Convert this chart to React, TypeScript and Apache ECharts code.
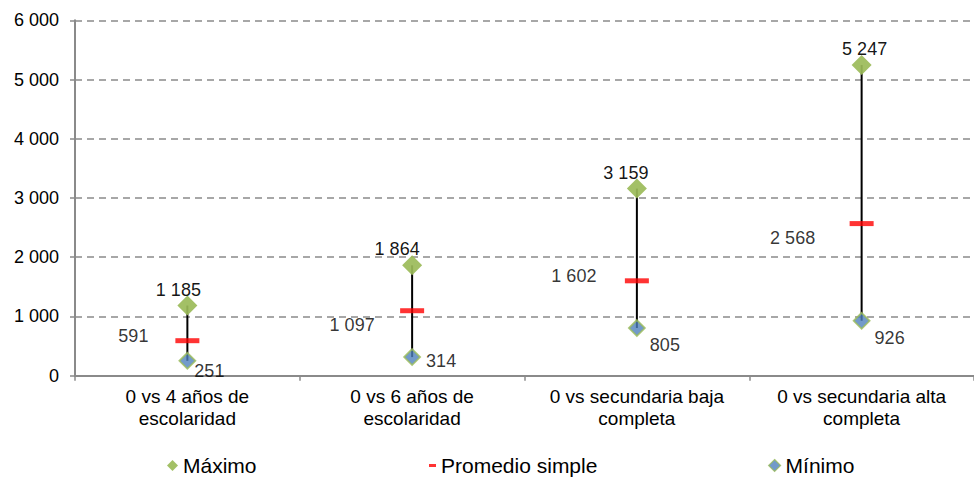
import React, { useEffect, useRef } from "react";
import * as echarts from "echarts";

// ---- data ----
const categories = [
  "0 vs 4 años de\nescolaridad",
  "0 vs 6 años de\nescolaridad",
  "0 vs secundaria baja\ncompleta",
  "0 vs secundaria alta\ncompleta",
];
const maximo = [1185, 1864, 3159, 5247];
const promedio = [591, 1097, 1602, 2568];
const minimo = [251, 314, 805, 926];
const yMin = 0;
const yMax = 6000;
const yInterval = 1000;

// label nudges (px, relative to the mark centre)
const maxLabelNudge = [[-9, -16], [-15, -16], [-11, -16], [3, -16]];
const avgLabelNudge = [[-54, -5], [-60, 14], [-63, -5], [-69, 14]];
const minLabelNudge = [[22, 10], [29, 4], [28, 17], [28, 17]];

const FONT = "'Liberation Sans', Arial, sans-serif";
const GRAY = "#8a8a8a";
const GREEN = "#9BBB59";
const BLUE = "#4F81BD";
const RED = "#FF0000";

const fmt = (v: number) =>
  String(Math.round(v)).replace(/\B(?=(\d{3})+(?!\d))/g, " ");

export default function App() {
  const ref = useRef<HTMLDivElement>(null);
  useEffect(() => {
    if (!ref.current) return;
    const chart = echarts.init(ref.current, null, { renderer: "svg" });
    const labelBase = {
      show: true,
      position: "inside",
      color: "#000",
      fontSize: 18,
      fontFamily: FONT,
      formatter: (p: any) => fmt(p.value),
    };
    const legendText = { fontSize: 21, color: "#000", fontFamily: FONT };
    chart.setOption({
      animation: false,
      textStyle: { fontFamily: FONT },
      grid: { left: 75, top: 20.3, right: -7.8, bottom: 102.3 },
      xAxis: {
        type: "category",
        data: categories,
        boundaryGap: true,
        axisLine: { show: true, lineStyle: { color: GRAY, width: 2 } },
        axisTick: { show: true, length: 5, lineStyle: { color: GRAY, width: 1.5 } },
        axisLabel: {
          interval: 0,
          margin: 10,
          color: "#000",
          fontSize: 19,
          lineHeight: 22,
          fontFamily: FONT,
        },
        splitLine: { show: false },
      },
      yAxis: {
        type: "value",
        min: yMin,
        max: yMax,
        interval: yInterval,
        axisLine: { show: true, lineStyle: { color: GRAY, width: 2 } },
        axisTick: { show: true, length: 5, lineStyle: { color: GRAY, width: 1.5 } },
        axisLabel: {
          margin: 16,
          color: "#000",
          fontSize: 18,
          fontFamily: FONT,
          formatter: (v: number) => fmt(v),
        },
        splitLine: {
          show: true,
          lineStyle: { color: GRAY, width: 1.5, type: [7, 5] },
        },
      },
      legend: [
        {
          data: [{ name: "Máximo", icon: "diamond" }],
          left: 167,
          top: 455,
          padding: 0,
          itemWidth: 11,
          itemHeight: 11,
          itemGap: 0,
          textStyle: legendText,
        },
        {
          data: [{ name: "Promedio simple", icon: "rect" }],
          left: 429,
          top: 455,
          padding: 0,
          itemWidth: 7,
          itemHeight: 3,
          itemGap: 0,
          textStyle: legendText,
        },
        {
          data: [
            {
              name: "Mínimo",
              icon: "diamond",
              itemStyle: { color: BLUE, borderColor: GREEN, borderWidth: 1.2 },
            },
          ],
          left: 768,
          top: 455,
          padding: 0,
          itemWidth: 12,
          itemHeight: 12,
          itemGap: 0,
          textStyle: legendText,
        },
      ],
      series: [
        {
          name: "Rango",
          type: "custom",
          z: 1,
          silent: true,
          data: categories.map((_, i) => [i, minimo[i], maximo[i]]),
          renderItem: (params: any, api: any) => {
            const a = api.coord([api.value(0), api.value(1)]);
            const b = api.coord([api.value(0), api.value(2)]);
            return {
              type: "line",
              shape: { x1: a[0], y1: a[1], x2: b[0], y2: b[1] },
              style: { stroke: "#000", lineWidth: 2 },
            };
          },
        },
        {
          name: "Promedio simple",
          type: "scatter",
          z: 2,
          symbol: "rect",
          symbolSize: [24, 5],
          itemStyle: { color: RED },
          data: promedio.map((v, i) => ({
            value: v,
            label: { ...labelBase, offset: avgLabelNudge[i] },
          })),
        },
        {
          name: "Máximo",
          type: "scatter",
          z: 3,
          symbol: "diamond",
          symbolSize: [20, 20],
          itemStyle: { color: GREEN, opacity: 0.92 },
          data: maximo.map((v, i) => ({
            value: v,
            label: { ...labelBase, offset: maxLabelNudge[i] },
          })),
        },
        {
          name: "Mínimo",
          type: "scatter",
          z: 3,
          symbol: "diamond",
          symbolSize: [16, 16],
          itemStyle: { color: BLUE, borderColor: GREEN, borderWidth: 1.8 },
          data: minimo.map((v, i) => ({
            value: v,
            label: { ...labelBase, offset: minLabelNudge[i] },
          })),
        },
      ],
    });
    return () => chart.dispose();
  }, []);
  return (
    <div
      ref={ref}
      style={{ position: "absolute", left: 0, top: 0, width: 974, height: 478, background: "#fff" }}
    />
  );
}
